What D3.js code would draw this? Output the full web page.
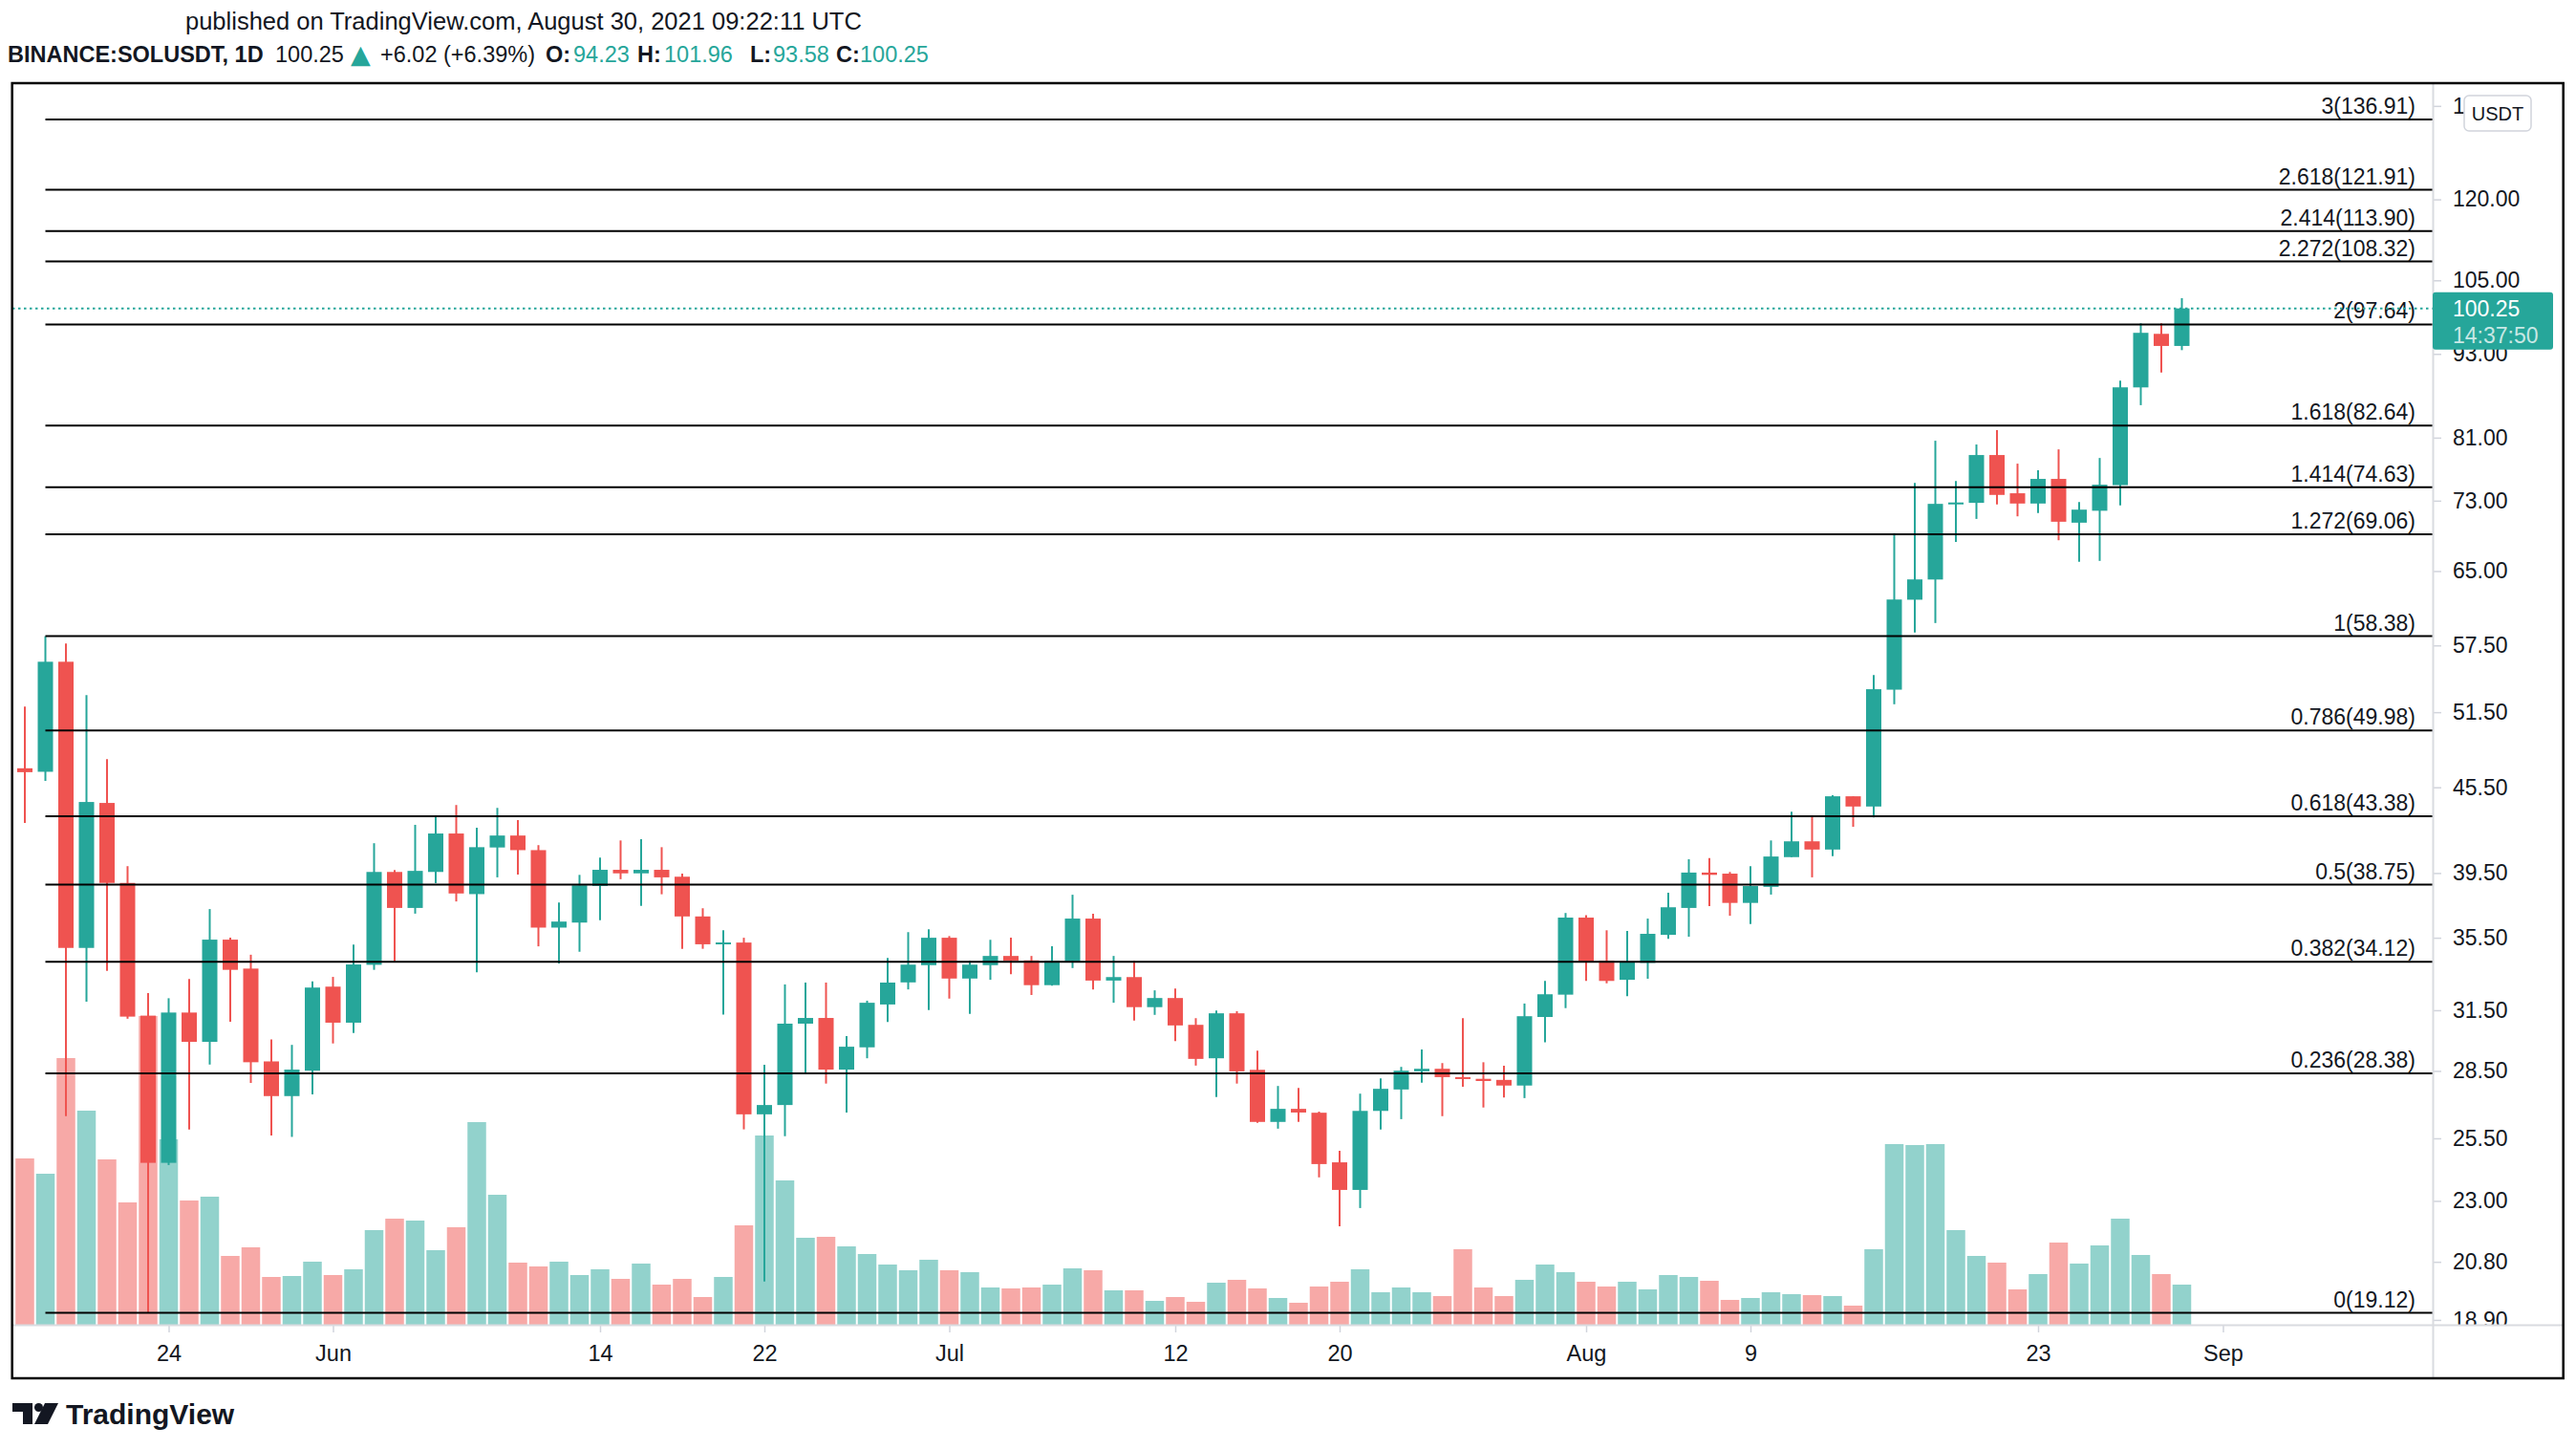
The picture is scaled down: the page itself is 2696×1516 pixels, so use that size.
<!DOCTYPE html>
<html>
<head>
<meta charset="utf-8">
<script src="https://cdn.jsdelivr.net/npm/d3@7"></script>
<style>
  html, body { margin: 0; padding: 0; background: #fff; }
  svg { display: block; }
  text { font-family: "Liberation Sans", Arial, sans-serif; fill: #131722; }
</style>
</head>
<body>
<svg class="chart-svg"></svg>
<script>
// daily candles, BINANCE:SOLUSDT
const firstDay = "2021-05-17";
const lastDay = "2021-08-30";

const open = [46.95, 46.68, 55.97, 34.91, 44.34, 38.86, 31.22, 24.49, 31.38, 29.90,
  35.39, 33.74, 28.95, 27.34, 28.51, 32.75, 30.86, 33.95, 39.57, 37.29,
  39.57, 42.16, 38.15, 41.20, 42.02, 41.02, 36.10, 36.40, 38.67, 39.71,
  39.48, 39.71, 39.26, 36.77, 35.12, 35.22, 26.53, 26.94, 30.81, 31.10,
  28.56, 29.63, 31.80, 32.98, 33.93, 35.50, 33.19, 33.93, 34.45, 34.20,
  32.83, 34.15, 36.64, 33.08, 33.27, 31.66, 32.14, 30.75, 29.10, 31.34,
  28.55, 26.20, 26.77, 26.60, 24.51, 23.42, 26.68, 27.64, 28.48, 28.60,
  28.21, 28.13, 28.08, 27.82, 31.15, 32.32, 36.70, 34.18, 33.12, 34.06,
  35.67, 37.29, 39.53, 39.46, 37.60, 38.61, 40.55, 41.62, 41.06, 44.83,
  44.08, 53.45, 62.00, 64.10, 72.60, 72.74, 78.71, 73.90, 72.66, 75.67,
  70.40, 71.80, 74.90, 88.00, 96.13, 94.23];

const high = [51.98, 58.38, 57.68, 52.97, 47.67, 39.95, 32.40, 32.13, 33.16, 37.22,
  35.50, 34.52, 30.02, 29.75, 33.04, 33.28, 35.10, 41.49, 39.70, 42.77,
  43.35, 44.19, 42.57, 43.98, 43.10, 41.36, 37.62, 39.38, 40.52, 41.68,
  41.76, 41.22, 39.46, 37.27, 35.94, 35.50, 28.79, 32.87, 32.97, 32.97,
  30.18, 32.00, 34.34, 35.83, 36.00, 35.60, 34.18, 35.38, 35.50, 34.45,
  35.00, 38.11, 36.93, 34.45, 34.18, 32.55, 32.65, 31.09, 31.49, 31.45,
  29.47, 27.80, 27.71, 26.65, 24.98, 27.45, 28.15, 28.69, 29.52, 28.87,
  31.09, 28.91, 28.74, 31.85, 33.06, 36.98, 36.85, 35.94, 35.90, 36.64,
  38.23, 40.41, 40.48, 39.57, 39.94, 41.68, 43.70, 43.37, 44.90, 44.83,
  54.76, 69.19, 75.18, 80.59, 75.42, 80.09, 82.00, 77.60, 76.75, 79.45,
  72.84, 78.33, 89.00, 97.82, 97.82, 101.96];

const low = [42.90, 45.98, 26.45, 31.95, 33.62, 31.06, 19.12, 24.40, 25.87, 28.80,
  30.91, 27.94, 25.62, 25.56, 27.42, 29.82, 30.34, 33.67, 34.12, 36.94,
  38.85, 37.69, 33.54, 39.22, 39.40, 35.00, 34.02, 34.69, 36.55, 39.10,
  37.42, 38.14, 34.86, 34.86, 31.27, 25.88, 20.14, 25.59, 28.41, 27.91,
  26.61, 29.10, 30.90, 32.60, 31.51, 32.11, 31.31, 33.12, 33.43, 32.30,
  32.80, 33.77, 32.60, 31.89, 30.97, 31.26, 29.94, 28.75, 27.30, 27.91,
  26.16, 25.91, 26.20, 23.91, 22.06, 22.73, 25.87, 26.32, 27.95, 26.45,
  27.77, 26.83, 27.28, 27.25, 29.88, 31.61, 33.06, 32.93, 32.24, 33.18,
  35.43, 35.56, 37.40, 36.81, 36.31, 38.12, 40.55, 39.22, 40.61, 42.63,
  43.30, 52.18, 58.73, 59.66, 68.21, 70.84, 72.55, 71.14, 71.52, 68.39,
  66.00, 66.10, 72.43, 85.46, 90.17, 93.58];

const close = [46.65, 55.97, 34.91, 44.41, 38.86, 31.17, 24.49, 31.38, 29.90, 35.39,
  33.67, 28.91, 27.34, 28.56, 32.70, 30.86, 33.97, 39.57, 37.29, 39.64,
  42.16, 38.19, 41.22, 42.02, 41.02, 36.10, 36.46, 38.71, 39.71, 39.48,
  39.71, 39.22, 36.77, 35.12, 35.22, 26.53, 26.94, 30.81, 31.10, 28.56,
  29.66, 31.89, 32.97, 33.96, 35.50, 33.19, 33.96, 34.45, 34.18, 32.83,
  34.18, 36.64, 33.08, 33.27, 31.66, 32.14, 30.72, 29.07, 31.34, 28.48,
  26.20, 26.77, 26.61, 24.44, 23.42, 26.68, 27.67, 28.51, 28.60, 28.21,
  28.12, 28.03, 27.82, 31.19, 32.34, 36.70, 34.10, 33.06, 34.10, 35.73,
  37.33, 39.53, 39.38, 37.60, 38.66, 40.59, 41.62, 41.06, 44.83, 44.08,
  53.49, 62.02, 64.11, 72.62, 72.74, 78.71, 73.70, 72.66, 75.67, 70.51,
  71.93, 74.95, 88.01, 96.29, 94.23, 100.25];

// volume, millions
const volume = [17.4, 15.8, 27.9, 22.4, 17.3, 12.8, 32.3, 19.4, 13.0, 13.4,
  7.2, 8.1, 5.0, 5.1, 6.6, 5.2, 5.8, 9.9, 11.1, 10.9,
  7.8, 10.2, 21.2, 13.6, 6.5, 6.1, 6.6, 5.2, 5.8, 4.8,
  6.4, 4.2, 4.8, 2.9, 5.0, 10.4, 19.8, 15.1, 9.1, 9.2,
  8.2, 7.4, 6.3, 5.7, 6.8, 5.7, 5.5, 3.9, 3.8, 3.9,
  4.2, 5.9, 5.7, 3.6, 3.6, 2.5, 2.9, 2.4, 4.4, 4.7,
  3.8, 2.8, 2.3, 4.0, 4.5, 5.8, 3.4, 3.9, 3.4, 3.0,
  7.9, 3.9, 3.0, 4.7, 6.3, 5.5, 4.5, 4.0, 4.5, 3.7,
  5.2, 5.0, 4.6, 2.6, 2.8, 3.4, 3.2, 3.1, 3.0, 2.0,
  7.9, 18.9, 18.8, 18.9, 9.9, 7.2, 6.5, 3.7, 5.3, 8.6,
  6.4, 8.3, 11.1, 7.3, 5.3, 4.2];

// fib extension drawn from the May 18 high to the May 23 low
const fibStart = "2021-05-18";
const fibRatios = [0, 0.236, 0.382, 0.5, 0.618, 0.786, 1, 1.272, 1.414, 1.618, 2, 2.272, 2.414, 2.618, 3];
const fibPrices = [19.12, 28.38, 34.12, 38.75, 43.38, 49.98, 58.38, 69.06, 74.63, 82.64, 97.64, 108.32, 113.9, 121.91, 136.91];

const priceTicks = [18.9, 20.8, 23, 25.5, 28.5, 31.5, 35.5, 39.5, 45.5, 51.5, 57.5, 65, 73, 81, 93, 105, 120, 140];
const dateTicks = ["2021-05-24", "2021-06-01", "2021-06-14", "2021-06-22", "2021-07-01", "2021-07-12",
  "2021-07-20", "2021-08-01", "2021-08-09", "2021-08-23", "2021-09-01"];
const dateTickLabels = ["24", "Jun", "14", "22", "Jul", "12", "20", "Aug", "9", "23", "Sep"];

const lastPrice = 100.25;
const countdown = "14:37:50";

const green = "#26a69a";
const red = "#ef5350";

function drawChart() {
  const width = 2696;
  const height = 1516;
  const plot = { left: 13, right: 2546, top: 88, bottom: 1386 };
  const step = 21.5;

  const days = d3.utcDay.range(new Date(firstDay), d3.utcDay.offset(new Date(lastDay), 1));
  const data = days.map((d, i) => ({
    date: d, open: open[i], high: high[i], low: low[i], close: close[i], volume: volume[i]
  }));

  const x = d3.scaleUtc()
    .domain([days[0], days[days.length - 1]])
    .range([26, 26 + step * (days.length - 1)]);
  const y = d3.scaleLog().domain([19.12, 58.38]).range([1373.6, 665.6]);
  const yVol = d3.scaleLinear()
    .domain([0, d3.max(volume)])
    .range([plot.bottom, plot.bottom - 323]);

  const svg = d3.select(".chart-svg").attr("width", width).attr("height", height);

  svg.append("rect").attr("width", width).attr("height", height).attr("fill", "#fff");

  svg.append("defs").append("clipPath").attr("id", "plot-clip")
    .append("rect")
    .attr("x", plot.left + 1).attr("y", plot.top)
    .attr("width", plot.right - plot.left - 1).attr("height", plot.bottom - plot.top);
  svg.select("defs").append("clipPath").attr("id", "axis-clip")
    .append("rect")
    .attr("x", plot.right).attr("y", plot.top)
    .attr("width", 140).attr("height", plot.bottom - plot.top);

  const chart = svg.append("g").attr("clip-path", "url(#plot-clip)");

  // volume
  chart.append("g")
    .selectAll("rect")
    .data(data)
    .enter()
    .append("rect")
    .attr("x", (d) => x(d.date) - (step - 2) / 2)
    .attr("width", step - 2)
    .attr("y", (d) => yVol(d.volume))
    .attr("height", (d) => plot.bottom - yVol(d.volume))
    .attr("fill", (d) => (d.close >= d.open ? green : red))
    .attr("fill-opacity", 0.5);

  // candles
  const candles = chart.append("g").selectAll("g").data(data).enter().append("g");
  candles
    .append("line")
    .attr("x1", (d) => x(d.date))
    .attr("x2", (d) => x(d.date))
    .attr("y1", (d) => y(d.high))
    .attr("y2", (d) => y(d.low))
    .attr("stroke", (d) => (d.close >= d.open ? green : red))
    .attr("stroke-width", 2);
  candles
    .append("rect")
    .attr("x", (d) => x(d.date) - 8)
    .attr("width", 16)
    .attr("y", (d) => {
      const top = y(Math.max(d.open, d.close));
      const h = Math.abs(y(d.open) - y(d.close));
      return h < 2 ? top - (2 - h) / 2 : top;
    })
    .attr("height", (d) => Math.max(2, Math.abs(y(d.open) - y(d.close))))
    .attr("fill", (d) => (d.close >= d.open ? green : red));

  // fib levels
  const fib = chart.append("g").selectAll("g").data(fibPrices).enter().append("g");
  fib
    .append("line")
    .attr("x1", x(new Date(fibStart)))
    .attr("x2", plot.right)
    .attr("y1", (d) => y(d))
    .attr("y2", (d) => y(d))
    .attr("stroke", "#000")
    .attr("stroke-width", 2);
  fib
    .append("text")
    .attr("x", 2528)
    .attr("y", (d) => y(d) - 6)
    .attr("text-anchor", "end")
    .style("font-size", "23px")
    .text((d, i) => `${fibRatios[i]}(${d.toFixed(2)})`);

  // last price line
  chart
    .append("line")
    .attr("x1", plot.left)
    .attr("x2", plot.right)
    .attr("y1", y(lastPrice))
    .attr("y2", y(lastPrice))
    .attr("stroke", green)
    .attr("stroke-width", 2)
    .attr("stroke-dasharray", "2.5 3.5");

  // price scale
  const priceAxis = svg
    .append("g")
    .attr("clip-path", "url(#axis-clip)")
    .append("g")
    .attr("transform", `translate(${plot.right},0)`)
    .call(d3.axisRight(y).tickValues(priceTicks).tickFormat(d3.format(".2f")).tickSize(9).tickPadding(12));
  priceAxis.select(".domain").remove();
  priceAxis.selectAll(".tick line").attr("stroke", "#d1d4dc").attr("stroke-width", 1.5);
  priceAxis.selectAll(".tick text")
    .style("font-size", "23px")
    .style("font-family", "Liberation Sans, Arial, sans-serif")
    .attr("fill", "#131722");

  // time scale
  const timeAxis = svg
    .append("g")
    .attr("transform", `translate(0,${plot.bottom})`)
    .call(d3.axisBottom(x)
      .tickValues(dateTicks.map((d) => new Date(d)))
      .tickFormat((d, i) => dateTickLabels[i])
      .tickSize(8)
      .tickPadding(13));
  timeAxis.select(".domain").remove();
  timeAxis.selectAll(".tick line").attr("stroke", "#d1d4dc").attr("stroke-width", 1.5);
  timeAxis.selectAll(".tick text")
    .style("font-size", "23.5px")
    .style("font-family", "Liberation Sans, Arial, sans-serif")
    .attr("fill", "#131722");

  // pane separators
  svg.append("line")
    .attr("x1", plot.right + 0.5).attr("x2", plot.right + 0.5)
    .attr("y1", plot.top).attr("y2", 1442)
    .attr("stroke", "#d9dbe0").attr("stroke-width", 2);
  svg.append("line")
    .attr("x1", plot.left).attr("x2", 2683)
    .attr("y1", plot.bottom + 0.5).attr("y2", plot.bottom + 0.5)
    .attr("stroke", "#d9dbe0").attr("stroke-width", 2);

  // currency badge
  svg.append("rect")
    .attr("x", 2579).attr("y", 100).attr("width", 70).attr("height", 37).attr("rx", 5)
    .attr("fill", "#fff").attr("stroke", "#d1d4dc").attr("stroke-width", 1.5);
  svg.append("text")
    .attr("x", 2614).attr("y", 126).attr("text-anchor", "middle")
    .style("font-size", "20px").text("USDT");

  // last price badge
  const yLast = y(lastPrice);
  svg.append("rect")
    .attr("x", plot.right).attr("y", yLast - 17).attr("width", 126).attr("height", 60).attr("rx", 3)
    .attr("fill", green);
  svg.append("text")
    .attr("x", 2567).attr("y", yLast + 8)
    .style("font-size", "23px").style("fill", "#fff")
    .text(lastPrice.toFixed(2));
  svg.append("text")
    .attr("x", 2567).attr("y", yLast + 36)
    .style("font-size", "23px").style("fill", "#fff").style("fill-opacity", 0.75)
    .text(countdown);

  // frame
  svg.append("rect")
    .attr("x", 12.7).attr("y", 87).attr("width", 2670).attr("height", 1355)
    .attr("fill", "none").attr("stroke", "#000").attr("stroke-width", 2.5);

  // header
  svg.append("text")
    .attr("x", 194).attr("y", 31)
    .style("font-size", "25.5px")
    .text("published on TradingView.com, August 30, 2021 09:22:11 UTC");

  const legend = svg.append("text").attr("y", 65).style("font-size", "23.5px");
  legend.append("tspan").attr("x", 8).style("font-weight", "bold").text("BINANCE:SOLUSDT, 1D");
  legend.append("tspan").attr("x", 288).text(lastPrice.toFixed(2));
  legend.append("tspan").attr("x", 367).attr("dy", 1)
    .style("fill", green).style("font-size", "27px").style("font-family", "DejaVu Sans")
    .text("▲");
  legend.append("tspan").attr("x", 398).attr("dy", -1).text("+6.02 (+6.39%)");
  const ohlcItems = [
    ["O:", open[open.length - 1], 571, 600],
    ["H:", high[high.length - 1], 667, 695],
    ["L:", low[low.length - 1], 785, 809],
    ["C:", close[close.length - 1], 875, 900]
  ];
  ohlcItems.forEach(([label, value, lx, vx]) => {
    legend.append("tspan").attr("x", lx).style("font-weight", "bold").text(label);
    legend.append("tspan").attr("x", vx).style("fill", green).text(value.toFixed(2));
  });

  // logo
  const logo = svg.append("g").attr("fill", "#131722");
  logo.append("path").attr("d", "M13,1468 H34 V1490 H24 V1477 H13 Z");
  logo.append("circle").attr("cx", 40.5).attr("cy", 1472.5).attr("r", 4.5);
  logo.append("path").attr("d", "M47,1468 H61 L50,1490 H36 Z");
  svg.append("text")
    .attr("x", 69).attr("y", 1490)
    .style("font-size", "30px").style("font-weight", "bold")
    .text("TradingView");
}

drawChart();
</script>
</body>
</html>
